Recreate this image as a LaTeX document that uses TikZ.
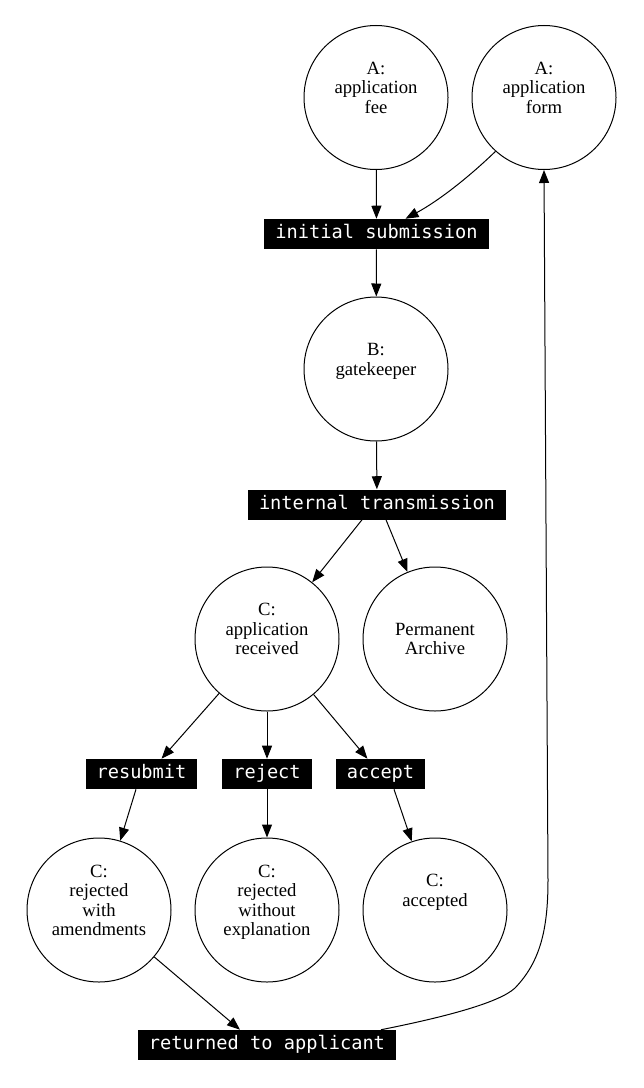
\documentclass[tikz,border=0pt]{standalone}
\usepackage{fontspec}
\setmainfont{Liberation Serif}
\setmonofont{DejaVu Sans Mono}
\usetikzlibrary{arrows.meta,calc}
\begin{document}
\begin{tikzpicture}[x=0.75pt,y=-0.75pt,
  state/.style={circle,draw,line width=0.75pt,minimum size=108pt,inner sep=0pt,align=center,
    font=\fontsize{14}{14.6}\selectfont},
  act/.style={fill=black,text=white,font=\ttfamily\fontsize{14}{16}\selectfont,
    inner xsep=8.25pt,inner ysep=0pt,minimum height=22.5pt,text height=10pt,text depth=3pt},
  arr/.style={-{Triangle[length=9.75pt,width=7.5pt]},line width=0.75pt}]
\useasboundingbox (0,0) rectangle (643,1088);
% nodes
\node[state] (fee) at (376,97.5) {A:\\application\\fee\\\mbox{}};
\node[state] (form) at (544,97.5) {A:\\application\\form\\\mbox{}};
\node[act] (init) at (376.5,234) {initial submission};
\node[state] (gate) at (376,369) {B:\\gatekeeper\\\mbox{}};
\node[act] (internal) at (377,504.5) {internal transmission};
\node[state] (received) at (267,639) {C:\\application\\received\\\mbox{}};
\node[state] (archive) at (435,639) {Permanent\\Archive};
\node[act] (resubmit) at (141.5,774) {resubmit};
\node[act] (reject) at (267,774) {reject};
\node[act] (accept) at (380.5,774) {accept};
\node[state] (rejwith) at (99,910) {C:\\rejected\\with\\amendments\\\mbox{}};
\node[state] (rejwithout) at (267,910) {C:\\rejected\\without\\explanation\\\mbox{}};
\node[state] (accepted) at (435,910) {C:\\accepted\\\mbox{}\\\mbox{}};
\node[act] (returned) at (267,1045) {returned to applicant};
% edges
\draw[arr] (fee) -- (init);
\draw[arr] (form.228) .. controls (470,176) and (440,200) .. ($(init.north)+(29,0)$);
\draw[arr] (init) -- (gate);
\draw[arr] (gate) -- (internal);
\draw[arr] ($(internal.south)+(-15,0)$) -- (received);
\draw[arr] ($(internal.south)+(9,0)$) -- (archive);
\draw[arr] (received) -- ($(resubmit.north)+(20,0)$);
\draw[arr] (received) -- (reject);
\draw[arr] (received) -- ($(accept.north)+(-13,0)$);
\draw[arr] ($(resubmit.south)+(-5.5,0)$) -- (rejwith);
\draw[arr] (reject) -- (rejwithout);
\draw[arr] ($(accept.south)+(13.5,0)$) -- (accepted);
\draw[arr] (rejwith) -- ($(returned.north)+(-27,0)$);
\draw[arr] ($(returned.north)+(114,0)$) .. controls (450,1016) and (500,1002) .. (515,988)
  .. controls (540,962) and (548,930) .. (548,880) -- (form.south);
\end{tikzpicture}
\end{document}
